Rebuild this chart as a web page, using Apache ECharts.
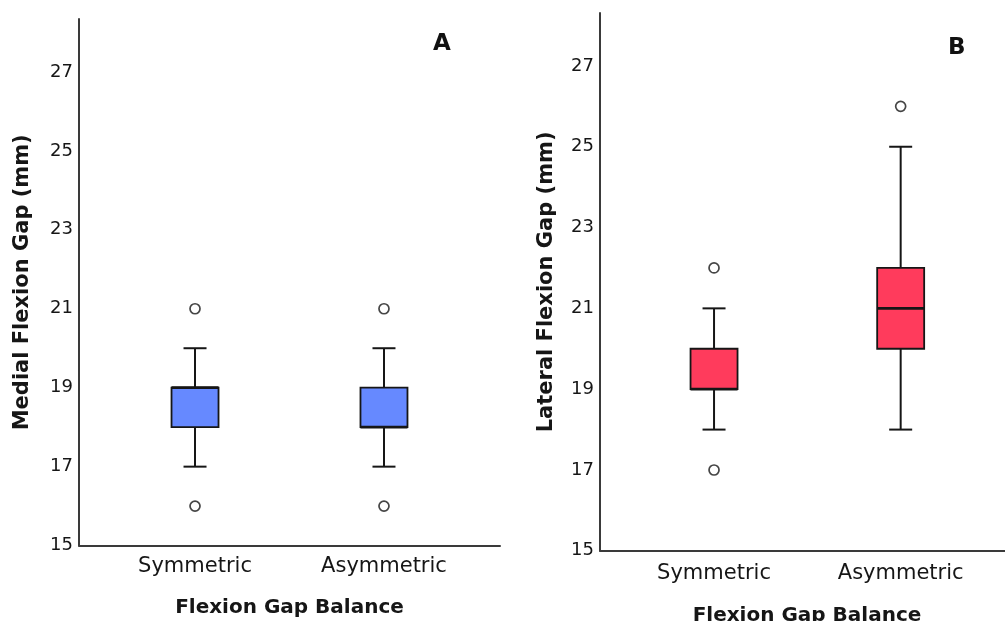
<!DOCTYPE html>
<html>
<head>
<meta charset="utf-8">
<script src="https://cdn.jsdelivr.net/npm/echarts@6/dist/echarts.min.js"></script>
<style>
html,body{margin:0;padding:0;background:#fff;}
#c{width:1005px;height:621px;}
</style>
</head>
<body>
<div id="c"></div>
<script>
// ---- data ----
const categories = ['Symmetric', 'Asymmetric'];
const yTicks = [15, 17, 19, 21, 23, 25, 27];

// Panel A: Medial Flexion Gap (mm)
const medialMin    = [17, 17];
const medialQ1     = [18, 18];
const medialMedian = [19, 18];
const medialQ3     = [19, 19];
const medialMax    = [20, 20];
const medialOutliers = [[0, 16], [0, 21], [1, 16], [1, 21]];

// Panel B: Lateral Flexion Gap (mm)
const lateralMin    = [18, 18];
const lateralQ1     = [19, 20];
const lateralMedian = [19, 21];
const lateralQ3     = [20, 22];
const lateralMax    = [21, 25];
const lateralOutliers = [[0, 17], [0, 22], [1, 26]];

// ---- build ----
function boxRows(mn, q1, md, q3, mx) {
  return categories.map((c, i) => [i, mn[i], q1[i], md[i], q3[i], mx[i]]);
}

const FONT = 'DejaVu Sans';
const INK = '#161616';
const BOX_HALF = 23.5;
const CAP_HALF = 11.5;

function makeRender(fill) {
  return function (params, api) {
    const x = api.value(0);
    const lo = api.coord([x, api.value(1)]);
    const q1 = api.coord([x, api.value(2)]);
    const md = api.coord([x, api.value(3)]);
    const q3 = api.coord([x, api.value(4)]);
    const hi = api.coord([x, api.value(5)]);
    const cx = lo[0];
    const ls = { stroke: INK, lineWidth: 2, fill: null };
    return {
      type: 'group',
      children: [
        { type: 'line', shape: { x1: cx, y1: lo[1], x2: cx, y2: q1[1] }, style: ls },
        { type: 'line', shape: { x1: cx, y1: q3[1], x2: cx, y2: hi[1] }, style: ls },
        { type: 'line', shape: { x1: cx - CAP_HALF, y1: lo[1], x2: cx + CAP_HALF, y2: lo[1] }, style: ls },
        { type: 'line', shape: { x1: cx - CAP_HALF, y1: hi[1], x2: cx + CAP_HALF, y2: hi[1] }, style: ls },
        { type: 'rect', shape: { x: cx - BOX_HALF, y: q3[1], width: 2 * BOX_HALF, height: q1[1] - q3[1] },
          style: { fill: fill, stroke: INK, lineWidth: 1.8 } },
        { type: 'line', shape: { x1: cx - BOX_HALF, y1: md[1], x2: cx + BOX_HALF, y2: md[1] },
          style: { stroke: INK, lineWidth: 2.8 } }
      ]
    };
  };
}

function xAxisDef(gridIndex, min, max, namePad, labelMargin, nameGap) {
  return {
    type: 'value', gridIndex: gridIndex, min: min, max: max,
    splitLine: { show: false },
    axisLine: { show: true, onZero: false, lineStyle: { color: '#3a3a3a', width: 2 } },
    axisTick: { show: false },
    axisLabel: {
      customValues: [0, 1],
      formatter: v => categories[Math.round(v)] || '',
      fontFamily: FONT, fontSize: 21, color: INK, margin: labelMargin
    },
    name: 'Flexion Gap Balance',
    nameLocation: 'middle',
    nameGap: nameGap,
    nameTextStyle: { fontFamily: FONT, fontSize: 20, fontWeight: 'bold', color: INK, padding: namePad }
  };
}

function yAxisDef(gridIndex, max, name, gap) {
  return {
    type: 'value', gridIndex: gridIndex, min: 15, max: max, interval: 2,
    splitLine: { show: false },
    axisLine: { show: true, onZero: false, lineStyle: { color: '#3a3a3a', width: 2 } },
    axisTick: { show: false },
    axisLabel: {
      customValues: yTicks,
      formatter: v => String(v),
      fontFamily: FONT, fontSize: 18, color: INK, margin: 6
    },
    name: name,
    nameLocation: 'middle',
    nameGap: gap,
    nameRotate: 90,
    nameTextStyle: { fontFamily: FONT, fontSize: 21, fontWeight: 'bold', color: INK }
  };
}

const outlierStyle = { color: '#fff', borderColor: INK, borderWidth: 1.7 };

const option = {
  backgroundColor: '#fff',
  animation: false,
  grid: [
    { left: 79, top: 19, width: 421, height: 526.6, containLabel: false, outerBoundsMode: 'none' },
    { left: 600, top: 13, width: 405, height: 537.8, containLabel: false, outerBoundsMode: 'none' }
  ],
  xAxis: [
    xAxisDef(0, -0.614, 1.614, [0, 0, 0, 0], 10, 52),
    xAxisDef(1, -0.611, 1.559, [0, 0, 0, 9], 12, 55)
  ],
  yAxis: [
    yAxisDef(0, 28.34, 'Medial Flexion Gap (mm)', 46),
    yAxisDef(1, 28.31, 'Lateral Flexion Gap (mm)', 43)
  ],
  series: [
    {
      type: 'custom', xAxisIndex: 0, yAxisIndex: 0,
      renderItem: makeRender('#6689ff'),
      encode: { x: 0, y: [1, 2, 3, 4, 5] },
      data: boxRows(medialMin, medialQ1, medialMedian, medialQ3, medialMax)
    },
    {
      type: 'scatter', xAxisIndex: 0, yAxisIndex: 0,
      symbol: 'circle', symbolSize: 10, itemStyle: outlierStyle,
      data: medialOutliers
    },
    {
      type: 'custom', xAxisIndex: 1, yAxisIndex: 1,
      renderItem: makeRender('#ff3b5c'),
      encode: { x: 0, y: [1, 2, 3, 4, 5] },
      data: boxRows(lateralMin, lateralQ1, lateralMedian, lateralQ3, lateralMax)
    },
    {
      type: 'scatter', xAxisIndex: 1, yAxisIndex: 1,
      symbol: 'circle', symbolSize: 10, itemStyle: outlierStyle,
      data: lateralOutliers
    }
  ],
  graphic: [
    { type: 'text', left: 433, top: 33, style: { text: 'A', font: 'bold 23px "DejaVu Sans"', fill: '#111' } },
    { type: 'text', left: 948, top: 37, style: { text: 'B', font: 'bold 23px "DejaVu Sans"', fill: '#111' } }
  ]
};

const chart = echarts.init(document.getElementById('c'), null, { renderer: 'canvas' });
chart.setOption(option);
</script>
</body>
</html>
